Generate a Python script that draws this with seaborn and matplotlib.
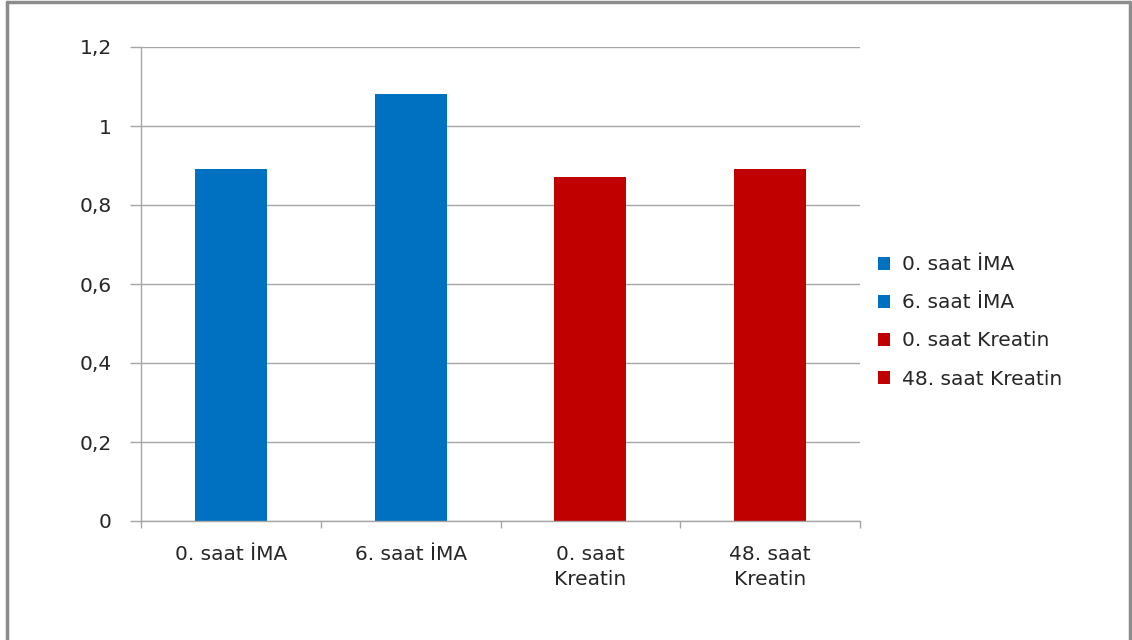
import matplotlib
matplotlib.use("Agg")
import matplotlib.pyplot as plt
from matplotlib.lines import Line2D
from matplotlib.ticker import FixedLocator, FuncFormatter
import seaborn as sns
import pandas as pd

categories = ["0. saat İMA", "6. saat İMA", "0. saat Kreatin", "48. saat Kreatin"]
tick_labels = ["0. saat İMA", "6. saat İMA", "0. saat\nKreatin", "48. saat\nKreatin"]
values = [0.89, 1.08, 0.87, 0.89]
colors = ["#0070C0", "#0070C0", "#C00000", "#C00000"]
y_ticks = [0, 0.2, 0.4, 0.6, 0.8, 1.0, 1.2]

df = pd.DataFrame({"kategori": categories, "deger": values})

sns.set_style("white")
plt.rcParams["font.family"] = ["DejaVu Sans"]

FS = 14.5
TXT = "#262626"

fig = plt.figure(figsize=(11.32, 6.4), dpi=100)
ax = fig.add_axes([141 / 1132, 1 - 521 / 640, (860 - 141) / 1132, (521 - 47) / 640])

sns.barplot(data=df, x="kategori", y="deger", hue="kategori",
            palette=colors, width=0.4, dodge=False, legend=True,
            saturation=1, linewidth=0, ax=ax)

ax.set_ylim(0, 1.2)
ax.set_xlim(-0.5, 3.5)
ax.yaxis.set_major_locator(FixedLocator(y_ticks))
ax.yaxis.set_major_formatter(FuncFormatter(lambda v, _: f"{v:g}".replace(".", ",")))
ax.set_xticks(range(len(categories)))
ax.set_xticklabels(tick_labels, linespacing=1.4)
ax.set_xlabel("")
ax.set_ylabel("")

grid_col = "#A6A6A6"
ax.grid(axis="y", color=grid_col, linewidth=1)
ax.set_axisbelow(True)
for side in ["top", "right"]:
    ax.spines[side].set_visible(False)
for side in ["left", "bottom"]:
    ax.spines[side].set_color(grid_col)
    ax.spines[side].set_linewidth(1)

# y ticks extend left like gridline stubs; x ticks sit on category boundaries
ax.tick_params(axis="y", length=8, width=1, color=grid_col, left=True,
               labelsize=FS, labelcolor=TXT, pad=13)
ax.tick_params(axis="x", which="major", length=0, labelsize=FS,
               labelcolor=TXT, pad=17.5)
ax.set_xticks([-0.5, 0.5, 1.5, 2.5, 3.5], minor=True)
ax.tick_params(axis="x", which="minor", length=5, width=1, color=grid_col, bottom=True)

leg = ax.legend(loc="center left", bbox_to_anchor=(1.025, 0.42), frameon=False,
                fontsize=FS, handlelength=0.6, handleheight=0.6,
                handletextpad=0.6, labelspacing=0.95, labelcolor=TXT,
                borderaxespad=0, borderpad=0)

# outer frame of the chart area
frame_col = "#8C8C8C"
fig.add_artist(Line2D([6.5 / 1132, 6.5 / 1132], [0, 1 - 2 / 640], color=frame_col, lw=2.5,
                      transform=fig.transFigure))
fig.add_artist(Line2D([6.5 / 1132, 1130 / 1132], [1 - 2 / 640, 1 - 2 / 640], color=frame_col, lw=2.5,
                      transform=fig.transFigure))
fig.add_artist(Line2D([1130 / 1132, 1130 / 1132], [0, 1 - 2 / 640], color=frame_col, lw=2.5,
                      transform=fig.transFigure))

fig.savefig("out.png", dpi=100, facecolor="white")
